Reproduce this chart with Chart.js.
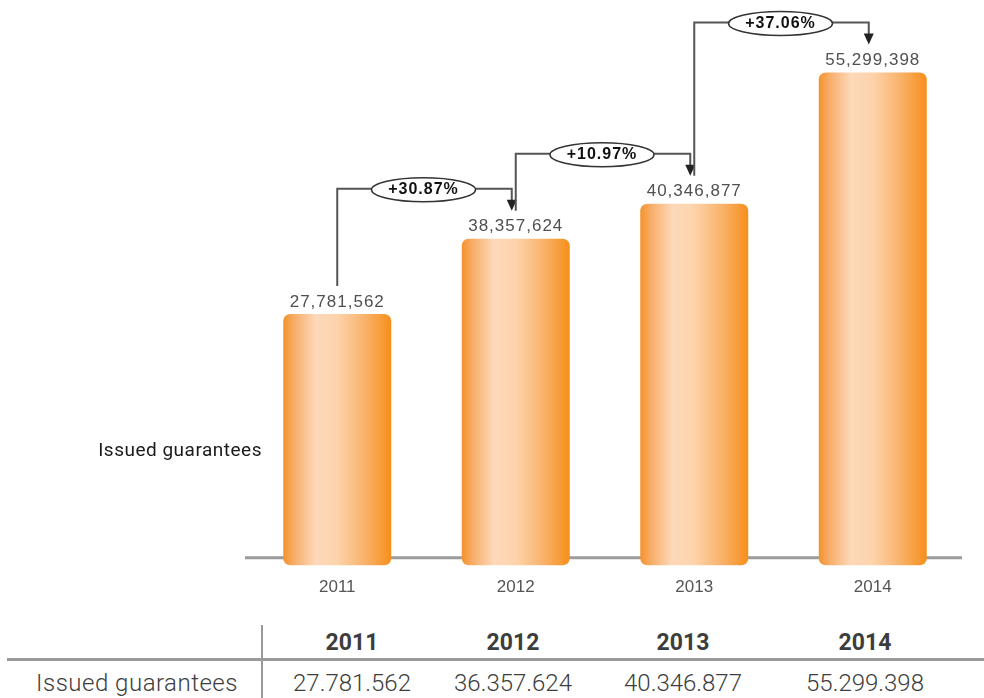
<!DOCTYPE html>
<html><head><meta charset="utf-8">
<script src="https://cdn.jsdelivr.net/npm/chart.js@4/dist/chart.umd.min.js"></script>
<style>
html,body{margin:0;padding:0;background:#fff;width:984px;height:698px;overflow:hidden;}
#wrap{position:absolute;left:0;top:0;width:984px;height:610px;}
.t{position:absolute;font-family:Roboto,sans-serif;color:#3d3d3d;white-space:nowrap;transform:translate(-50%,-50%);font-size:23px;}
.h{font-weight:700;}
.l{font-weight:300;font-size:24px;}
.line{position:absolute;background:#9a9a9a;}
</style></head><body>
<div id="wrap"><canvas id="c" width="984" height="610"></canvas></div>
<div id="table"></div>
<script>
const categories = ['2011', '2012', '2013', '2014'];
const issuedGuarantees = [27781562, 36357624, 40346877, 55299398];
const valueLabels = ['27,781,562', '38,357,624', '40,346,877', '55,299,398'];
const growthLabels = ['+30.87%', '+10.97%', '+37.06%'];
const seriesName = 'Issued guarantees';
const tableValues = ['27.781.562', '36.357.624', '40.346.877', '55.299.398'];

const BAR_PCT = 0.605;
function barGradient(context) {
  const chart = context.chart;
  const xs = chart.scales.x;
  if (!xs || context.dataIndex === undefined) return '#f7941d';
  const cx = xs.getPixelForValue(context.dataIndex);
  const half = xs.width / categories.length * BAR_PCT / 2;
  if (!isFinite(cx) || !isFinite(half) || half <= 0) return '#f7941d';
  const g = chart.ctx.createLinearGradient(cx - half, 0, cx + half, 0);
  g.addColorStop(0, '#f4922c');
  g.addColorStop(0.1, '#f7ad68');
  g.addColorStop(0.3, '#fdd9ba');
  g.addColorStop(0.5, '#fdd3ab');
  g.addColorStop(0.75, '#f9b36c');
  g.addColorStop(1, '#f68f1b');
  return g;
}

const overlay = {
  id: 'overlay',
  beforeDatasetsDraw(chart) {
    const ctx = chart.ctx;
    const y0 = chart.scales.y.getPixelForValue(0);
    ctx.save();
    ctx.strokeStyle = '#9b9b9b';
    ctx.lineWidth = 3;
    ctx.beginPath();
    ctx.moveTo(chart.chartArea.left - 3, y0);
    ctx.lineTo(chart.chartArea.right, y0);
    ctx.stroke();
    ctx.restore();
  },
  afterDatasetsDraw(chart) {
    const ctx = chart.ctx;
    const bars = chart.getDatasetMeta(0).data;
    ctx.save();
    ctx.font = '17px "Liberation Sans", Arial, sans-serif';
    ctx.letterSpacing = '1px';
    ctx.fillStyle = '#505050';
    ctx.textAlign = 'center';
    ctx.textBaseline = 'middle';
    bars.forEach((b, i) => ctx.fillText(valueLabels[i], b.x, b.y - 12));
    for (let i = 0; i < growthLabels.length; i++) {
      const a = bars[i], b = bars[i + 1];
      const yStart = a.y - 28, level = b.y - 50, tip = b.y - 28;
      const xa = a.x, xb = b.x - 4;
      const cx = (a.x + b.x) / 2 - 3, rx = 52, ry = 12;
      ctx.strokeStyle = '#555';
      ctx.lineWidth = 2;
      ctx.beginPath();
      ctx.moveTo(xa, yStart); ctx.lineTo(xa, level); ctx.lineTo(cx - rx, level);
      ctx.moveTo(cx + rx, level); ctx.lineTo(xb, level); ctx.lineTo(xb, tip - 10);
      ctx.stroke();
      ctx.fillStyle = '#222';
      ctx.beginPath();
      ctx.moveTo(xb - 5, tip - 11); ctx.lineTo(xb + 5, tip - 11); ctx.lineTo(xb, tip);
      ctx.closePath(); ctx.fill();
      ctx.fillStyle = '#fff';
      ctx.strokeStyle = '#333';
      ctx.lineWidth = 1.5;
      ctx.beginPath();
      ctx.ellipse(cx, level + 1, rx, ry, 0, 0, Math.PI * 2);
      ctx.fill(); ctx.stroke();
      ctx.fillStyle = '#111';
      ctx.font = 'bold 16px "Liberation Sans", Arial, sans-serif';
      ctx.fillText(growthLabels[i], cx, level + 1);
    }
    ctx.letterSpacing = '0.5px';
    ctx.font = '19px Roboto, sans-serif';
    ctx.textAlign = 'right';
    ctx.fillStyle = '#1a1a1a';
    ctx.fillText(seriesName, 262, 451);
    ctx.restore();
  }
};

// table
const tbl = document.getElementById('table');
const colX = [352, 513, 683, 865];
let html = '<div class="line" style="left:261px;top:625px;width:1.5px;height:73px"></div>';
html += '<div class="line" style="left:7px;top:658px;width:977px;height:2.5px"></div>';
categories.forEach((c, i) => { html += `<div class="t h" style="left:${colX[i]}px;top:642px">${c}</div>`; });
html += `<div class="t l" style="left:137px;top:683px;letter-spacing:0.5px">${seriesName}</div>`;
tableValues.forEach((v, i) => { html += `<div class="t l" style="left:${colX[i]}px;top:683px">${v}</div>`; });
tbl.innerHTML = html;

new Chart(document.getElementById('c'), {
  type: 'bar',
  data: {
    labels: categories,
    datasets: [{
      label: seriesName,
      data: issuedGuarantees,
      base: -850000,
      backgroundColor: barGradient,
      borderRadius: 7,
      borderSkipped: false,
      categoryPercentage: BAR_PCT,
      barPercentage: 1
    }]
  },
  options: {
    responsive: false,
    animation: false,
    devicePixelRatio: 1,
    layout: { padding: { left: 248, right: 22, top: 5, bottom: 1 } },
    plugins: { legend: { display: false }, tooltip: { enabled: false } },
    scales: {
      x: {
        grid: { display: false, drawTicks: false },
        border: { display: false },
        ticks: { padding: 11, color: '#555', font: { family: '"Liberation Sans", Arial, sans-serif', size: 17 } }
      },
      y: { display: false, min: -1000000, max: 63000000 }
    }
  },
  plugins: [overlay]
});
</script>
</body></html>
